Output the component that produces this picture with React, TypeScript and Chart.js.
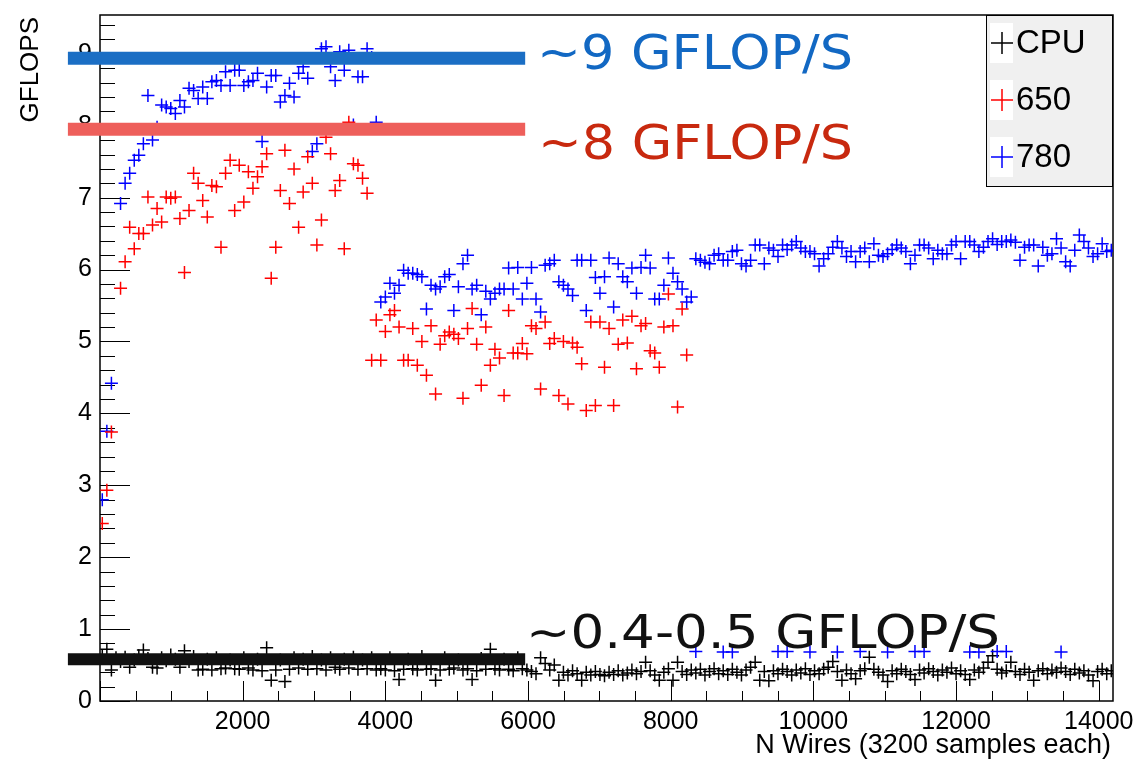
import React, { useEffect, useRef } from 'react';
import { Chart, registerables } from 'chart.js';

Chart.register(...registerables);

// ---------- data ----------
const X_START = 32;   // wires of first sample
const X_STEP = 64;    // wires between samples

const cpuValues: (number | null)[] = [
  0.62, 0.72, 0.43, 0.6, 0.55, 0.61, 0.47, 0.57, 0.63, 0.71,
  0.59, 0.47, 0.46, 0.6, 0.56, 0.64, 0.58, 0.47, 0.7, 0.55,
  0.62, 0.43, 0.44, 0.58, 0.43, 0.6, 0.45, 0.46, 0.57, 0.45,
  0.44, 0.6, 0.46, 0.43, 0.58, 0.42, 0.74, 0.29, 0.43, 0.57,
  0.27, 0.44, 0.6, 0.46, 0.58, 0.44, 0.62, 0.45, 0.57, 0.43,
  0.6, 0.47, 0.44, 0.58, 0.46, 0.61, 0.44, 0.57, 0.45, 0.6,
  0.43,
  0.45, 0.43, 0.6, 0.42, 0.3, 0.44, 0.58, 0.45, 0.43, 0.62,
  0.44, 0.45, 0.29, 0.43, 0.6, 0.44, 0.46, 0.57, 0.43, 0.45,
  0.3, 0.42, 0.59, 0.44, 0.72, 0.45, 0.43, 0.58, 0.44, 0.42,
  0.6, 0.45, 0.43,
  0.41, 0.38, 0.6, 0.52, 0.43, 0.5, 0.29, 0.4, 0.36, 0.42,
  0.38, 0.29, 0.4, 0.36, 0.41, 0.37, 0.35, 0.4, 0.37, 0.42,
  0.36, 0.39, 0.43, 0.38, 0.41, 0.54, 0.42, 0.36, 0.29, 0.4,
  0.45, 0.29, 0.54, 0.41, 0.37, 0.43, 0.39, 0.44, 0.36, 0.41,
  0.45, 0.38, 0.42, 0.37, 0.44, 0.4, 0.36, 0.43, 0.47, 0.54,
  0.29, 0.41, 0.28, 0.42, 0.38, 0.44, 0.41, 0.36, 0.43, 0.39,
  0.45, 0.37, 0.42, 0.38, 0.44, 0.47, 0.55, 0.41, 0.29, 0.43,
  0.38, 0.31, 0.42, 0.45, 0.61, 0.44, 0.4, 0.36, 0.27, 0.42,
  0.38, 0.44, 0.41, 0.37, 0.3, 0.43, 0.39, 0.45, 0.41, 0.36,
  0.43, 0.4, 0.46, 0.38, 0.42, 0.37, 0.3, 0.43, 0.4, 0.46,
  0.54, 0.63, 0.44, 0.39, 0.42, 0.54, 0.41, 0.37, 0.44, 0.4,
  0.29, 0.42, 0.45, 0.38, 0.43, 0.4, 0.46, 0.41, 0.37, 0.44,
  0.39, 0.42, 0.36, 0.28, 0.41, 0.44, 0.38, 0.42,
];

const gpu650Values: (number | null)[] = [
  2.47, 2.93, 3.74, null, 5.74, 6.11, 6.59, 6.29, 6.5, 6.5,
  7.01, 6.62, 6.85, 6.66, 7.01, 6.99, 7.01, 6.71, 5.96, 6.82,
  7.34, 7.2, 6.96, 6.73, 7.17, 7.15, 6.31, 7.34, 7.52, 6.82,
  7.45, 6.94, 7.36, 7.13, 7.29, 7.43, 7.61, 5.88, 6.31, 7.1,
  7.66, 6.92, 7.4, 6.59, 7.08, 7.57, 7.2, 6.34, 6.69, 7.84,
  7.61, 7.1, 7.24, 6.29, 8.05, 7.47, 7.45, 7.27, 7.06,
  4.74, 5.3, 4.74, 5.14, 5.37, 5.43, 5.2, 4.74, 4.74, 5.18,
  4.67, 5.0, 4.53, 5.22, 4.27, 4.96, 5.08, 5.13, 5.1, 5.04,
  4.21, 5.18, 5.46, 4.96, 4.39, 5.2, 4.67, 4.89, 4.77, 4.25,
  5.43, 4.84, 4.84, 4.97, 4.83, 5.22, 5.18, 4.34, 5.27, 4.97,
  5.04, 4.25, 5.0, 4.13, 4.98, 4.92, 4.69, 4.04, 5.27, 4.11,
  5.27, 4.64, 5.18, 4.11, 4.96, 5.3, 4.98, 5.35, 4.62, 5.22,
  5.25, 4.87, 4.84, 4.64, 5.2, 5.66, 5.22, 4.09, 5.45, 4.81,
];

const gpu780Values: (number | null)[] = [
  2.8, 3.75, 4.42, null, 6.92, 7.2, 7.34, 7.52, 7.59, 7.75,
  8.42, 7.8, 7.98, 8.29, 8.26, 8.24, 8.17, 8.35, 8.26, 8.52,
  8.49, 8.38, 8.54, 8.38, 8.61, 8.63, 8.56, 8.75, 8.56, 8.77,
  8.77, 8.56, 8.61, 8.63, 8.73, 7.78, 8.54, 8.7, 8.7, 8.33,
  8.42, 8.59, 8.4, 8.73, 8.82, 8.66, 7.64, 7.75, 9.07, 9.1,
  8.82, 8.63, 9.03, 8.77, 9.05, 8.01, 8.68, 8.68, 9.07, 8.95,
  8.05,
  5.55, 5.62, 5.81, 5.67, 5.78, 5.99, 5.95, 5.95, 5.93, 5.9,
  5.45, 5.78, 5.73, 5.76, 5.9, 5.93, 5.43, 5.76, 6.08, 6.2,
  5.73, 5.78, 5.37, 5.7, 5.59, 5.67, 5.73, 5.73, 6.02, 5.73,
  6.03, 5.59, 5.81, 6.03, 5.59, 5.41, 6.06, 6.08, 6.13, 5.83,
  5.78, 5.73, 5.64, 6.13, 6.13, 5.43, 6.13, 5.89, 5.67, 5.9,
  6.16, 5.48, 6.08, 5.9, 5.83, 6.02, 5.67, 6.03, 6.2, 6.02,
  5.59, 5.59, 5.78, 6.16, 5.95, 5.83, 5.73, 5.55, 5.62,
  6.15, 6.13, 6.1, 6.08, 6.2, 6.22, 6.13, 6.13, 6.25, 6.27,
  6.08, 6.05, 6.13, 6.34, 6.34, 6.08, 6.3, 6.27, 6.18, 6.34,
  6.28, 6.34, 6.39, 6.3, 6.25, 6.25, 6.22, 6.05, 6.15, 6.22,
  6.31, 6.39, 6.3, 6.18, 6.25, 6.11, 6.25, 6.3, 6.11, 6.36,
  6.2, 6.18, 6.22, 6.28, 6.34, 6.3, 6.25, 6.08, 6.2, 6.34,
  6.34, 6.3, 6.15, 6.27, 6.22, 6.22, 6.34, 6.39, 6.15, 6.39,
  6.39, 6.34, 6.25, 6.31, 6.39, 6.43, 6.35, 6.39, 6.39, 6.41,
  6.38, 6.13, 6.31, 6.34, 6.34, 6.05, 6.31, 6.2, 6.22, 6.43,
  6.3, 6.11, 6.05, 6.27, 6.48, 6.39, 6.3, 6.18, 6.22, 6.36,
  6.25, 6.27,
];

// occasional 780 runs that fell to CPU level
const gpu780LowWires = [8352, 8736, 8864, 9504, 9632, 9952, 10336, 10656, 11040, 11424, 11552, 12192, 12320, 12576, 12704, 13472];
const gpu780LowValues = [0.69, 0.68, 0.68, 0.69, 0.69, 0.68, 0.68, 0.69, 0.68, 0.69, 0.69, 0.68, 0.68, 0.69, 0.69, 0.68];

// hand-drawn highlighter strokes
const bandWires = [-450, 5960];
const bandLevels = [8.94, 7.95, 0.58];
const bandColors = ['#1b6ec4', '#ee5f5b', '#111111'];

const seriesLabels = ['CPU', '650', '780'];
const seriesColors = ['#000000', '#ff0000', '#0000ff'];

const xTickValues = [2000, 4000, 6000, 8000, 10000, 12000, 14000];
const yTickValues = [0, 1, 2, 3, 4, 5, 6, 7, 8, 9];
const X_MAX = 14200;
const Y_MAX = 9.54;

const noteTexts = ['~9 GFLOP/S', '~8 GFLOP/S', '~0.4-0.5 GFLOP/S'];
const noteColors = ['#1268c3', '#c8290f', '#111111'];

const xTitle = 'N Wires (3200 samples each)';
const yTitle = 'GFLOPS';

// ---------- helpers ----------
const toPoints = (vals: (number | null)[]) =>
  vals.map((v, i) => ({ x: X_START + X_STEP * i, y: v }));

const SANS = '"Liberation Sans", Arial, Helvetica, sans-serif';

const framePlugin = {
  id: 'rootFrame',
  beforeDatasetsDraw(chart: any) {
    const { ctx, chartArea, scales } = chart;
    const { left, right, top, bottom } = chartArea;
    const xs = scales.x;
    const ys = scales.y;
    ctx.save();
    ctx.strokeStyle = '#000';
    ctx.lineWidth = 1;
    ctx.beginPath();
    for (let k = 0; k * 0.2 <= Y_MAX + 1e-9; k++) {
      const v = k * 0.2;
      const py = Math.round(ys.getPixelForValue(v)) + 0.5;
      const len = k % 5 === 0 ? 30 : 15;
      ctx.moveTo(left, py);
      ctx.lineTo(left + len, py);
    }
    for (let k = 0; k * 500 <= X_MAX; k++) {
      const v = k * 500;
      const px = Math.round(xs.getPixelForValue(v)) + 0.5;
      const len = k % 4 === 0 ? 20 : 10;
      ctx.moveTo(px, bottom);
      ctx.lineTo(px, bottom - len);
    }
    ctx.stroke();
    ctx.lineWidth = 1.5;
    ctx.strokeRect(left, top, right - left, bottom - top);
    ctx.restore();
  },
};

function fitText(ctx: CanvasRenderingContext2D, text: string, x0: number, x1: number, baseline: number, size: number, color: string) {
  ctx.save();
  ctx.font = `${size}px "DejaVu Sans", sans-serif`;
  const w = ctx.measureText(text).width;
  ctx.translate(x0, baseline);
  ctx.scale((x1 - x0) / w, 1);
  ctx.fillStyle = color;
  ctx.textAlign = 'left';
  ctx.textBaseline = 'alphabetic';
  ctx.fillText(text, 0, 0);
  ctx.restore();
}

const overlayPlugin = {
  id: 'rootOverlay',
  afterDraw(chart: any) {
    const { ctx, chartArea } = chart;
    const { right, top, bottom } = chartArea;
    ctx.save();

    // legend box
    const lw = 127, lh = 171;
    const lx = right - lw, ly = top;
    ctx.fillStyle = '#f0f0f0';
    ctx.fillRect(lx, ly, lw, lh);
    ctx.strokeStyle = '#000';
    ctx.lineWidth = 1;
    ctx.strokeRect(lx + 0.5, ly + 0.5, lw - 1, lh);
    seriesLabels.forEach((lab, k) => {
      const cy = ly + 28 + k * 57;
      ctx.fillStyle = '#ffffff';
      ctx.fillRect(lx + 4, cy - 20, 23, 40);
      ctx.strokeStyle = seriesColors[k];
      ctx.lineWidth = 1.5;
      ctx.beginPath();
      ctx.moveTo(lx + 5, cy);
      ctx.lineTo(lx + 27, cy);
      ctx.moveTo(lx + 16, cy - 11);
      ctx.lineTo(lx + 16, cy + 11);
      ctx.stroke();
      ctx.fillStyle = '#000';
      ctx.font = `33px ${SANS}`;
      ctx.textAlign = 'left';
      ctx.textBaseline = 'middle';
      ctx.fillText(lab, lx + 30, cy + 1);
    });

    // hand-written notes
    fitText(ctx, noteTexts[0], 537, 853, 69, 48, noteColors[0]);
    fitText(ctx, noteTexts[1], 538, 853, 159, 48, noteColors[1]);
    fitText(ctx, noteTexts[2], 526, 1000, 648, 46, noteColors[2]);

    // axis titles (ROOT style, right-aligned at axis end)
    ctx.fillStyle = '#000';
    ctx.font = `27px ${SANS}`;
    ctx.textAlign = 'right';
    ctx.textBaseline = 'alphabetic';
    ctx.fillText(xTitle, right - 2, bottom + 52);

    ctx.font = `26px ${SANS}`;
    ctx.save();
    ctx.translate(38, top + 2);
    ctx.rotate(-Math.PI / 2);
    ctx.textAlign = 'right';
    ctx.textBaseline = 'alphabetic';
    ctx.fillText(yTitle, 0, 0);
    ctx.restore();

    ctx.restore();
  },
};

export default function App() {
  const ref = useRef<HTMLCanvasElement>(null);

  useEffect(() => {
    const canvas = ref.current;
    if (!canvas) return;

    const markerDs = (label: string, color: string, data: any[], order: number) => ({
      label,
      data,
      showLine: false,
      pointStyle: 'cross',
      pointRadius: 6.5,
      pointBorderWidth: 1.5,
      borderColor: color,
      backgroundColor: color,
      pointBorderColor: color,
      order,
    });

    const bandDs = (k: number) => ({
      label: 'band' + k,
      data: bandWires.map((w) => ({ x: w, y: bandLevels[k] })),
      showLine: true,
      borderColor: bandColors[k],
      backgroundColor: bandColors[k],
      borderWidth: k === 2 ? 12 : 13,
      borderCapStyle: 'butt',
      pointRadius: 0,
      clip: false,
      order: 0,
    });

    const low780 = gpu780LowWires.map((w, i) => ({ x: w, y: gpu780LowValues[i] }));

    const chart = new Chart(canvas, {
      type: 'scatter',
      data: {
        datasets: [
          markerDs(seriesLabels[0], seriesColors[0], toPoints(cpuValues), 5),
          markerDs(seriesLabels[2], seriesColors[2], toPoints(gpu780Values).concat(low780), 4),
          markerDs(seriesLabels[1], seriesColors[1], toPoints(gpu650Values), 3),
          bandDs(0),
          bandDs(1),
          bandDs(2),
        ] as any,
      },
      options: {
        animation: false,
        responsive: false,
        maintainAspectRatio: false,
        events: [],
        layout: { padding: { left: 0, right: 28, top: 15, bottom: 0 } },
        plugins: {
          legend: { display: false },
          tooltip: { enabled: false },
          title: { display: false },
        },
        scales: {
          x: {
            type: 'linear',
            min: 0,
            max: X_MAX,
            afterBuildTicks: (s: any) => {
              s.ticks = xTickValues.map((v) => ({ value: v }));
            },
            afterFit: (s: any) => {
              s.height = 61;
              s.paddingLeft = 0;
              s.paddingRight = 0;
            },
            grid: { display: false, drawTicks: false },
            border: { display: false },
            ticks: {
              color: '#000',
              font: { family: SANS, size: 25 },
              padding: 6,
              maxRotation: 0,
              autoSkip: false,
              callback: (v: any) => String(v),
            },
          },
          y: {
            type: 'linear',
            min: 0,
            max: Y_MAX,
            afterBuildTicks: (s: any) => {
              s.ticks = yTickValues.map((v) => ({ value: v }));
            },
            afterFit: (s: any) => {
              s.width = 100;
              s.paddingTop = 0;
              s.paddingBottom = 0;
            },
            grid: { display: false, drawTicks: false },
            border: { display: false },
            ticks: {
              color: '#000',
              font: { family: SANS, size: 25 },
              padding: 8,
              autoSkip: false,
              callback: (v: any) => String(v),
            },
          },
        },
      } as any,
      plugins: [framePlugin, overlayPlugin],
    });

    return () => chart.destroy();
  }, []);

  return (
    <div style={{ position: 'fixed', left: 0, top: 0, width: 1141, height: 762, background: '#ffffff' }}>
      <canvas ref={ref} width={1141} height={762} style={{ display: 'block', width: 1141, height: 762 }} />
    </div>
  );
}
